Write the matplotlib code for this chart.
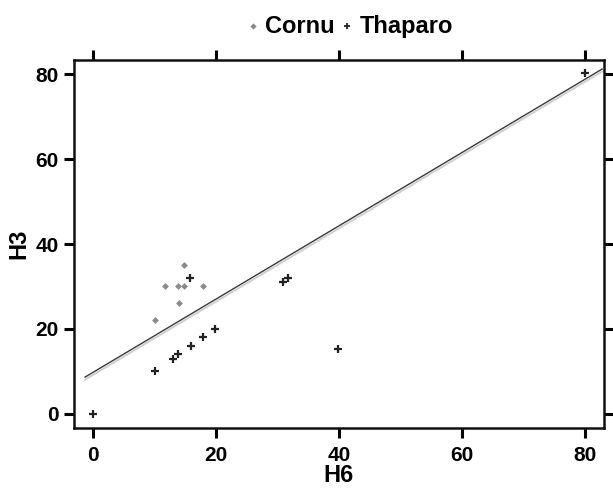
import numpy as np
import matplotlib
matplotlib.use('Agg')
import matplotlib.pyplot as plt

plt.rcParams['font.family'] = ['Liberation Sans', 'DejaVu Sans']
plt.rcParams['font.weight'] = 'bold'

# data
cornu_h6 = [10, 11.7, 13.8, 14.8, 14.8, 17.9, 14]
cornu_h3 = [22, 30, 30, 30, 35, 30, 26]
thaparo_h6 = [0, 10, 13, 13.8, 15.9, 17.9, 19.8, 15.8, 30.9, 31.7, 39.8, 80]
thaparo_h3 = [0, 10, 13, 14, 16, 18, 20, 32, 31, 32, 15.3, 80.3]
fit_slope = 0.862
fit_intercept = 9.8
shadow_intercept = 9.2
fit_range = [-1.3, 82.8]

fig = plt.figure(figsize=(6.13, 4.91), dpi=100)
ax = fig.add_axes([0.1207, 0.1283, 0.8646, 0.7495])

xs = np.array(fit_range)
ax.plot(xs, shadow_intercept + fit_slope * xs, color='#d0d0d0', lw=1.4, zorder=1)
ax.plot(xs, fit_intercept + fit_slope * xs, color='#3a3a3a', lw=1.0, zorder=2)

ax.scatter(cornu_h6, cornu_h3, marker='D', s=12, color='#8a8a8a', linewidths=0, zorder=3, label='Cornu')
ax.scatter(thaparo_h6, thaparo_h3, marker='+', s=26, color='#222222', linewidths=1.6, zorder=3, label='Thaparo')

ax.set_xlim(-3.1, 83.1)
ax.set_ylim(-3.3, 83.3)
ax.set_xticks([0, 20, 40, 60, 80])
ax.set_yticks([0, 20, 40, 60, 80])

for s in ax.spines.values():
    s.set_linewidth(1.8)
    s.set_color('#111111')

ax.tick_params(direction='out', length=7, width=2.2, labelsize=15,
               top=True, right=True, labeltop=False, labelright=False)
ax.tick_params(axis='x', pad=6)
ax.tick_params(axis='y', pad=4)

ax.set_xlabel('H6', fontsize=17, fontweight='bold', labelpad=-1)
ax.set_ylabel('H3', fontsize=17, fontweight='bold', labelpad=4)

leg = ax.legend(loc='lower center', bbox_to_anchor=(0.515, 1.035), ncol=2, frameon=False,
                fontsize=17, handletextpad=0.0, columnspacing=0.05, markerscale=0.9,
                handlelength=1.0, borderaxespad=0)
leg.legend_handles[0].set_sizes([10])
leg.legend_handles[1].set_sizes([22])
leg.legend_handles[1].set_linewidths([1.3])

fig.savefig('out.png', dpi=100)
